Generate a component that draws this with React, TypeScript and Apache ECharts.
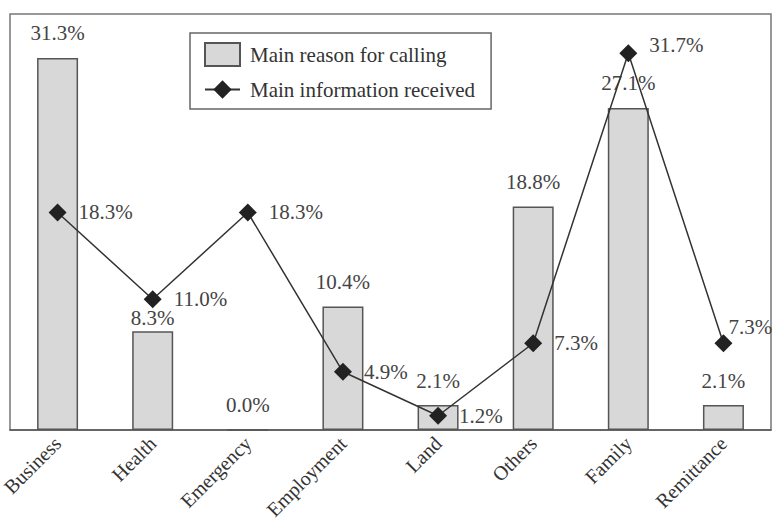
import React, { useEffect, useRef } from "react";
import * as echarts from "echarts";

const categories = ["Business", "Health", "Emergency", "Employment", "Land", "Others", "Family", "Remittance"];
const reasonValues = [31.3, 8.3, 0.0, 10.4, 2.1, 18.8, 27.1, 2.1];
const infoValues = [18.3, 11.0, 18.3, 4.9, 1.2, 7.3, 31.7, 7.3];
const seriesNames = ["Main reason for calling", "Main information received"];

const FONT = "Liberation Serif";
const pct = (p: any) => Number(p.value).toFixed(1) + "%";

export default function App() {
  const ref = useRef<HTMLDivElement>(null);
  useEffect(() => {
    if (!ref.current) return;
    const chart = echarts.init(ref.current, undefined, { renderer: "svg" });
    const barData = reasonValues.map((v, i) =>
      categories[i] === "Health" ? { value: v, label: { distance: 3 } } : v
    );
    const lineData = infoValues.map((v, i) => {
      if (categories[i] === "Remittance") return { value: v, label: { distance: 0, offset: [-4, -16] } };
      if (categories[i] === "Family") return { value: v, label: { offset: [0, -8] } };
      return v;
    });
    chart.setOption({
      animation: false,
      backgroundColor: "#ffffff",
      textStyle: { fontFamily: FONT, color: "#3a3a3a" },
      grid: {
        left: 10,
        right: 1,
        top: 14,
        bottom: 96,
        show: true,
        borderColor: "#777",
        borderWidth: 1.5,
        containLabel: false,
        outerBoundsMode: "none",
      },
      legend: {
        left: 190,
        top: 33,
        orient: "vertical",
        itemWidth: 35,
        itemHeight: 23,
        itemGap: 12,
        padding: [9, 16, 9, 14],
        borderColor: "#666",
        borderWidth: 1.5,
        textStyle: { fontFamily: FONT, fontSize: 21, color: "#333", padding: [0, 0, 0, 5] },
        data: [{ name: seriesNames[0], icon: "rect" }, { name: seriesNames[1] }],
      },
      xAxis: {
        type: "category",
        data: categories,
        boundaryGap: true,
        axisLine: { lineStyle: { color: "#555", width: 1.5 } },
        axisTick: { inside: true, length: 6, lineStyle: { color: "#555", width: 1.5 } },
        axisLabel: {
          rotate: 45,
          fontFamily: FONT,
          fontSize: 20,
          color: "#333",
          margin: 10,
        },
      },
      yAxis: {
        type: "value",
        min: 0,
        max: 35,
        show: false,
        splitLine: { show: false },
      },
      series: [
        {
          name: seriesNames[0],
          type: "bar",
          data: barData,
          barWidth: 41,
          itemStyle: { color: "#d8d8d8", borderColor: "#555", borderWidth: 1.5 },
          label: {
            show: true,
            position: "top",
            distance: 14,
            formatter: pct,
            fontFamily: FONT,
            fontSize: 21,
            color: "#444",
          },
        },
        {
          name: seriesNames[1],
          type: "line",
          data: lineData,
          symbol: "diamond",
          symbolSize: 18,
          lineStyle: { color: "#333", width: 1.5 },
          itemStyle: { color: "#222" },
          label: {
            show: true,
            position: "right",
            distance: 12,
            formatter: pct,
            fontFamily: FONT,
            fontSize: 21,
            color: "#444",
          },
          z: 5,
        },
      ],
    });
    return () => chart.dispose();
  }, []);
  return (
    <div
      ref={ref}
      style={{ position: "absolute", left: 0, top: 0, width: 772, height: 526 }}
    />
  );
}
